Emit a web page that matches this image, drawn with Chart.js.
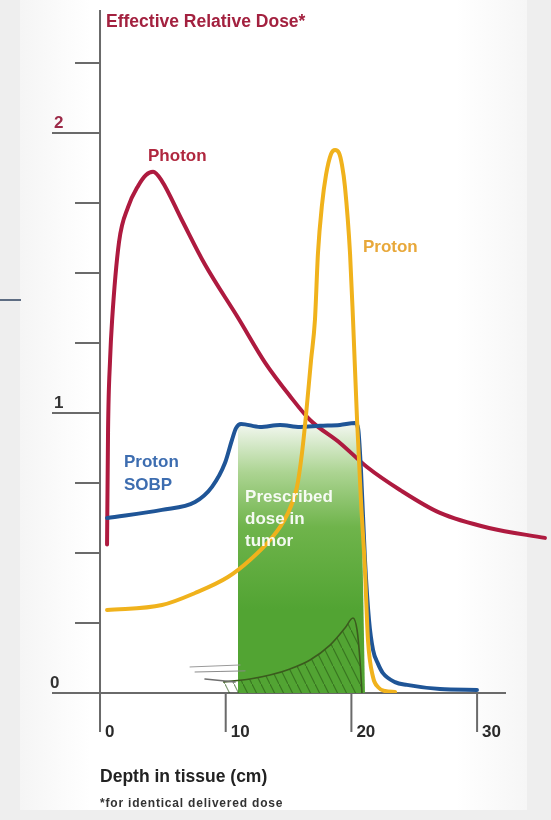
<!DOCTYPE html>
<html>
<head>
<meta charset="utf-8">
<script src="https://cdn.jsdelivr.net/npm/chart.js@4.4.1/dist/chart.umd.min.js"></script>
<style>
  html, body { margin: 0; padding: 0; background: #eeeeee; }
  #frame { position: absolute; left: 20px; top: 0; width: 507px; height: 810px;
           background: linear-gradient(to right, #f5f5f5 0%, #ffffff 14%, #ffffff 86%, #f6f6f6 100%); }
  #rule { position: absolute; left: 0; top: 299px; width: 21px; height: 2px; background: #5d6c82; }
  #chart { position: absolute; left: 0; top: 0; }
</style>
</head>
<body>
<div id="frame"></div>
<div id="rule"></div>
<canvas id="chart" width="551" height="820"></canvas>
<script>
// depth in cm, effective relative dose
const photonDepth = [0.56, 0.64, 0.8, 0.96, 1.51, 2.23, 3.02, 3.66, 4.22, 4.9, 6.5, 8.35, 10.98, 13.13, 15.12, 16.71, 19.09, 21.24, 23.87, 27.05, 30.95, 35.4];
const photonDose  = [0.53, 0.94, 1.19, 1.33, 1.61, 1.735, 1.81, 1.85, 1.861, 1.83, 1.69, 1.53, 1.34, 1.18, 1.06, 0.975, 0.893, 0.807, 0.725, 0.643, 0.589, 0.554];

const protonDepth = [0.56, 4.93, 7.56, 10.18, 11.93, 13.52, 14.88, 15.67, 16.07, 16.39, 16.79, 17.1, 17.34, 17.66, 17.98, 18.38, 18.7, 19.01, 19.25, 19.49, 19.89, 20.13, 20.45, 20.76, 21.08, 21.32, 21.72, 22.12, 22.67, 23.47];
const protonDose  = [0.296, 0.314, 0.357, 0.414, 0.475, 0.546, 0.636, 0.736, 0.857, 0.993, 1.189, 1.332, 1.571, 1.743, 1.85, 1.925, 1.939, 1.929, 1.886, 1.807, 1.571, 1.332, 0.975, 0.689, 0.439, 0.189, 0.057, 0.021, 0.007, 0.004];

const sobpDepth = [0.56, 4.93, 7.56, 8.91, 9.94, 10.5, 10.82, 11.22, 12.73, 14.32, 15.91, 17.5, 19.09, 20.29, 20.53, 20.76, 21.08, 21.4, 21.72, 22.12, 22.51, 23.47, 24.42, 27.05, 29.99];
const sobpDose  = [0.625, 0.654, 0.682, 0.736, 0.821, 0.904, 0.946, 0.961, 0.95, 0.957, 0.95, 0.954, 0.957, 0.964, 0.946, 0.796, 0.475, 0.261, 0.154, 0.104, 0.071, 0.039, 0.029, 0.014, 0.011];

// prescribed dose band (tumor region)
const tumorDepth = [10.98, 20.7, 21.08];
const tumorDose  = [0.955, 0.955, 0];

// small beam sketch inside the tumor band
const beamDepth = [9.79, 11.93, 13.52, 15.12, 16.71, 18.3, 19.49, 20.13, 20.45, 20.68, 20.84];
const beamDose  = [0.039, 0.05, 0.064, 0.086, 0.118, 0.171, 0.232, 0.268, 0.225, 0.118, 0];
const strokeA = { depth: [7.16, 11.14], dose: [0.093, 0.1] };
const strokeB = { depth: [7.56, 11.54], dose: [0.075, 0.079] };
const strokeC = { depth: [8.35, 10.74], dose: [0.05, 0.039] };

const depthTicks = [0, 10, 20, 30];
const depthTickLabels = ['0', '10', '20', '30'];
const doseTicks = [0.25, 0.5, 0.75, 1, 1.25, 1.5, 1.75, 2, 2.25];
const doseLabelValues = [0, 1, 2];
const doseLabels = ['0', '1', '2'];

const seriesNames = ['Photon', 'Proton', 'Proton SOBP'];
const bandText = ['Prescribed', 'dose in', 'tumor'];
const yTitle = 'Effective Relative Dose*';
const xTitle = 'Depth in tissue (cm)';
const footnote = '*for identical delivered dose';

const zip = (xs, ys) => xs.map((v, i) => ({ x: v, y: ys[i] }));

const hatch = document.createElement('canvas');
hatch.width = 9; hatch.height = 18;
const hctx = hatch.getContext('2d');
hctx.strokeStyle = 'rgba(40,85,20,0.6)';
hctx.lineWidth = 1.1;
hctx.beginPath(); hctx.moveTo(0, 0); hctx.lineTo(9, 18); hctx.stroke();
const hatchPattern = hctx.createPattern(hatch, 'repeat');

const font = (px) => 'bold ' + px + 'px "Liberation Sans", Arial, sans-serif';

const drawAxes = {
  id: 'drawAxes',
  beforeDatasetsDraw(chart) {
    const { ctx, chartArea, scales: { x, y } } = chart;
    const x0 = x.getPixelForValue(0), y0 = y.getPixelForValue(0);
    ctx.save();
    ctx.strokeStyle = '#6a6a6a';
    ctx.lineWidth = 2;
    ctx.beginPath();
    ctx.moveTo(chartArea.left, y0); ctx.lineTo(x.getPixelForValue(32.3), y0);
    ctx.moveTo(x0, chartArea.top); ctx.lineTo(x0, y0 + 39);
    depthTicks.forEach(v => { const px = x.getPixelForValue(v); ctx.moveTo(px, y0); ctx.lineTo(px, y0 + 39); });
    doseTicks.forEach(v => {
      const py = y.getPixelForValue(v);
      ctx.moveTo(doseLabelValues.includes(v) ? chartArea.left : x0 - 25, py);
      ctx.lineTo(x0, py);
    });
    ctx.stroke();
    ctx.restore();
  },
  afterDatasetsDraw(chart) {
    const { ctx, chartArea, scales: { x, y } } = chart;
    const x0 = x.getPixelForValue(0), y0 = y.getPixelForValue(0);
    const put = (str, dx, dy, color, size) => {
      ctx.font = font(size); ctx.fillStyle = color;
      ctx.fillText(str, x.getPixelForValue(dx), y.getPixelForValue(dy));
    };
    ctx.save();
    ctx.textBaseline = 'alphabetic';
    ctx.textAlign = 'left';

    // dose tick labels
    ctx.font = font(17);
    doseLabelValues.forEach((v, i) => {
      ctx.fillStyle = v === 2 ? '#9c2a48' : '#333333';
      ctx.fillText(doseLabels[i], chartArea.left + (v === 0 ? -2 : 2), y.getPixelForValue(v) - 5);
    });
    // depth tick labels
    ctx.fillStyle = '#2a2a2a';
    depthTicks.forEach((v, i) => ctx.fillText(depthTickLabels[i], x.getPixelForValue(v) + 5, y0 + 44));

    // titles
    ctx.font = font(17.5); ctx.fillStyle = '#a3213f';
    ctx.fillText(yTitle, x0 + 6, chartArea.top + 17);
    ctx.font = font(17.5); ctx.fillStyle = '#222222';
    ctx.fillText(xTitle, x0, y0 + 89);
    ctx.font = font(12); ctx.fillStyle = '#333333';
    ctx.letterSpacing = '0.8px';
    ctx.fillText(footnote, x0, y0 + 114);
    ctx.letterSpacing = '0px';

    // series labels
    put(seriesNames[0], 3.82, 1.9, '#b0283f', 17);
    put(seriesNames[1], 20.92, 1.575, '#e8a83a', 17);
    put('Proton', 1.91, 0.807, '#3d6db0', 17);
    put('SOBP', 1.91, 0.725, '#3d6db0', 17);
    put(bandText[0], 11.54, 0.682, 'rgba(255,255,255,0.92)', 17);
    put(bandText[1], 11.54, 0.604, 'rgba(255,255,255,0.92)', 17);
    put(bandText[2], 11.54, 0.525, 'rgba(255,255,255,0.92)', 17);
    ctx.restore();
  }
};

const line = (data, color, width, order) => ({
  data, borderColor: color, borderWidth: width, pointRadius: 0, fill: false,
  cubicInterpolationMode: 'monotone', borderCapStyle: 'round', borderJoinStyle: 'round', order
});

new Chart(document.getElementById('chart').getContext('2d'), {
  type: 'line',
  data: {
    datasets: [
      {
        data: zip(tumorDepth, tumorDose), borderWidth: 0, pointRadius: 0, fill: 'origin', tension: 0, order: 10,
        backgroundColor: (c) => {
          const ch = c.chart;
          if (!ch.chartArea) return '#56a636';
          const yS = ch.scales.y;
          const g = ch.ctx.createLinearGradient(0, yS.getPixelForValue(0.95), 0, yS.getPixelForValue(0.3));
          g.addColorStop(0, '#eef5ea');
          g.addColorStop(0.25, '#acd492');
          g.addColorStop(0.55, '#6fb44b');
          g.addColorStop(1, '#52a433');
          return g;
        }
      },
      { data: zip(beamDepth, beamDose), borderColor: '#3b5a1e', borderWidth: 1.6, pointRadius: 0,
        fill: 'origin', backgroundColor: hatchPattern, cubicInterpolationMode: 'monotone', order: 9 },
      line(zip(strokeA.depth, strokeA.dose), '#9a9a9a', 1, 8),
      line(zip(strokeB.depth, strokeB.dose), '#8a8a8a', 1, 8),
      line(zip(strokeC.depth, strokeC.dose), '#6f6f6f', 1.5, 8),
      line(zip(photonDepth, photonDose), '#ae1a3f', 4, 3),
      line(zip(sobpDepth, sobpDose), '#1f5597', 4, 2),
      line(zip(protonDepth, protonDose), '#f0b21c', 4, 1)
    ]
  },
  options: {
    responsive: false,
    animation: false,
    devicePixelRatio: 1,
    layout: { padding: { left: 52, right: 0, top: 10, bottom: 127 } },
    scales: {
      x: { type: 'linear', min: -3.82, max: 35.88, display: false },
      y: { type: 'linear', min: 0, max: 2.439, display: false }
    },
    plugins: { legend: { display: false }, tooltip: { enabled: false } }
  },
  plugins: [drawAxes]
});
</script>
</body>
</html>
